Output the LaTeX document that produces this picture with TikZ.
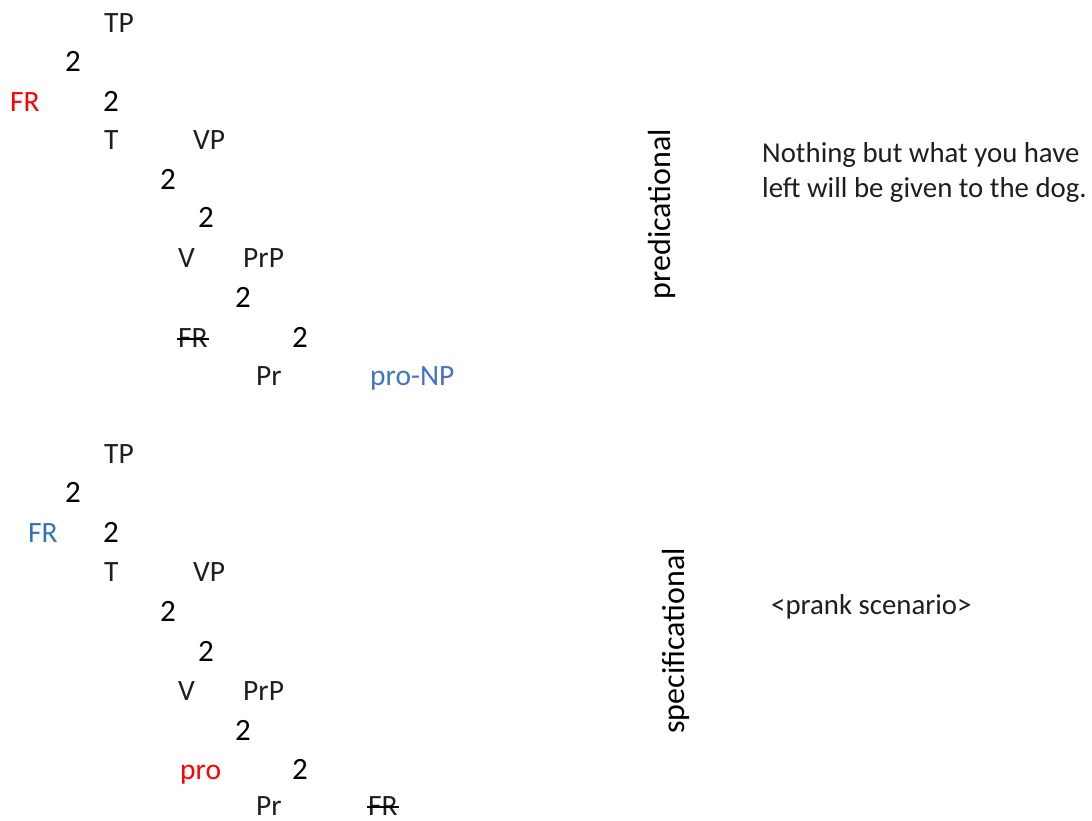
\documentclass[tikz,border=0pt]{standalone}
\usepackage{fontspec}
\setmainfont{Carlito}
\usetikzlibrary{calc}
\definecolor{myred}{RGB}{255,0,0}
\definecolor{npblue}{RGB}{68,114,196}
\definecolor{frblue}{RGB}{46,117,182}
\definecolor{txt}{RGB}{30,30,30}
\tikzset{
  lbl/.style={anchor=base west, inner sep=0pt, font=\fontsize{29.5}{34}\selectfont, text=txt},
  sent/.style={anchor=base west, inner sep=0pt, font=\fontsize{28.8}{34}\selectfont, text=txt},
  br/.style={anchor=base, inner sep=0pt, font=\fontsize{31}{34}\selectfont, text=black},
  strike/.style={line width=1.6pt, black},
  side/.style={anchor=center, inner sep=0pt, rotate=90, font=\fontsize{32}{36}\selectfont, text=black},
}
\begin{document}
\begin{tikzpicture}[x=1pt,y=-1pt]
\useasboundingbox (0,0) rectangle (1092,821);
% first tree
\node[lbl] (tp1) at (104,33) {TP};
\node[br] (b1a) at (73,72) {2};
\node[lbl, text=myred] (fr1) at (10,112) {FR};
\node[br] (b1b) at (111,112) {2};
\node[lbl] (t1) at (104,150) {T};
\node[lbl] (vp1) at (193,150) {VP};
\node[br] (b1c) at (168,190) {2};
\node[br] (b1d) at (206,228) {2};
\node[lbl] (v1) at (178,267) {V};
\node[lbl] (prp1) at (243,267) {PrP};
\node[br] (b1e) at (243,307) {2};
\node[lbl] (frs1) at (178,347) {FR};
\node[br] (b1f) at (300,347) {2};
\node[lbl] (pr1) at (256,385) {Pr};
\node[lbl, text=npblue] (pronp1) at (370,385) {pro-NP};
\draw[strike] ($(frs1.base west)+(-1,-8)$) -- ($(frs1.base east)+(1,-8)$);
\node[side] (pred) at (662,214) {predicational};
\node[sent] (s1) at (762,163) {Nothing but what you have};
\node[sent] (s2) at (762,198) {left will be given to the dog.};
% second tree
\node[lbl] (tp2) at (104,463) {TP};
\node[br] (b2a) at (73,502) {2};
\node[lbl, text=frblue] (fr2) at (28,542) {FR};
\node[br] (b2b) at (111,542) {2};
\node[lbl] (t2) at (104,581) {T};
\node[lbl] (vp2) at (193,581) {VP};
\node[br] (b2c) at (168,621) {2};
\node[br] (b2d) at (206,661) {2};
\node[lbl] (v2) at (178,700) {V};
\node[lbl] (prp2) at (243,700) {PrP};
\node[br] (b2e) at (243,740) {2};
\node[lbl, text=myred] (pro2) at (180,779) {pro};
\node[br] (b2f) at (300,779) {2};
\node[lbl] (pr2) at (256,815) {Pr};
\node[lbl] (frs2) at (368,815) {FR};
\draw[strike] ($(frs2.base west)+(-1,-8)$) -- ($(frs2.base east)+(1,-8)$);
\node[side] (spec) at (676,641) {specificational};
\node[sent] (s3) at (771,614) {<prank scenario>};
\end{tikzpicture}
\end{document}
